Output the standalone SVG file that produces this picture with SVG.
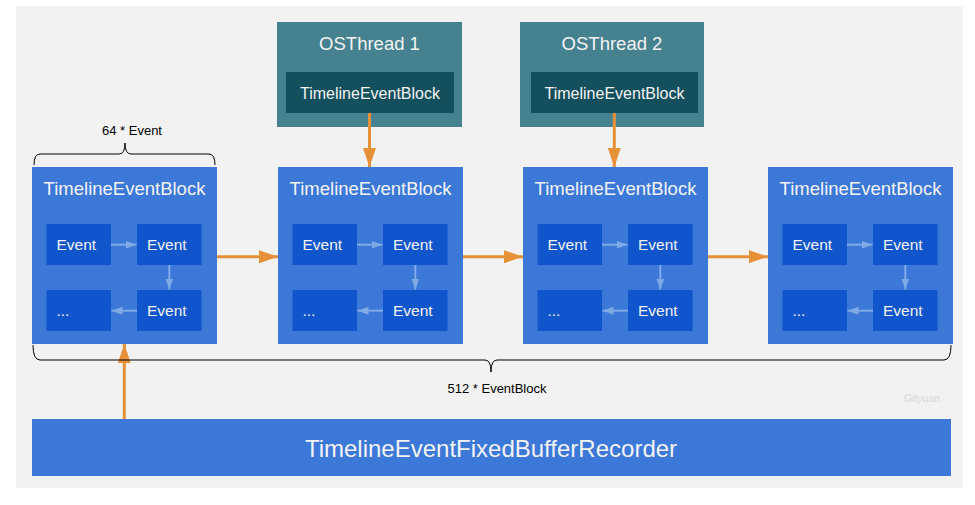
<svg xmlns="http://www.w3.org/2000/svg" width="975" height="505" viewBox="0 0 975 505">
<defs>
<style>
text{font-family:"Liberation Sans",Arial,sans-serif;}
.blk{fill:#3c78d8;}
.ev{fill:#1155cc;}
.t18{font-size:18.5px;fill:#f3f3f3;text-anchor:middle;}
.t16{font-size:16px;fill:#f3f3f3;text-anchor:middle;}
.te{font-size:15.5px;fill:#f3f3f3;}
.th{fill:#45818e;}
.thi{fill:#134f5c;}
.oa{stroke:#e69138;stroke-width:3;fill:none;}
.ia{stroke:#7faae6;stroke-width:2;fill:none;}
.brace{stroke:#000;stroke-width:1;fill:none;}
.lbl{font-size:13px;fill:#000;text-anchor:middle;}
</style>
<marker id="oh" markerUnits="userSpaceOnUse" markerWidth="20" markerHeight="14" refX="19" refY="7" orient="auto">
<path d="M0,0.5 L19,7 L0,13.5 Z" fill="#e69138"/>
</marker>
<marker id="ih" markerUnits="userSpaceOnUse" markerWidth="12" markerHeight="10" refX="11" refY="5" orient="auto">
<path d="M0,1 L11,5 L0,9 Z" fill="#7faae6"/>
</marker>
<g id="events">
<rect class="ev" x="14.5" y="57" width="64.5" height="41"/>
<rect class="ev" x="105" y="57" width="64.5" height="41"/>
<rect class="ev" x="14.5" y="123" width="64.5" height="41"/>
<rect class="ev" x="105" y="123" width="64.5" height="41"/>
<text class="te" x="24.5" y="83.2">Event</text>
<text class="te" x="115" y="83.2">Event</text>
<text class="te" x="24.5" y="149.2">...</text>
<text class="te" x="115" y="149.2">Event</text>
<line class="ia" x1="79" y1="77.7" x2="104.5" y2="77.7" marker-end="url(#ih)"/>
<line class="ia" x1="137.3" y1="98" x2="137.3" y2="122.5" marker-end="url(#ih)"/>
<line class="ia" x1="105" y1="143.7" x2="79.5" y2="143.7" marker-end="url(#ih)"/>
</g>
</defs>
<rect x="16" y="6" width="947" height="482" fill="#f2f2f2"/>

<g id="block1">
<rect class="blk" x="32" y="167" width="185" height="177"/>
<text class="t18" x="124.5" y="194.8">TimelineEventBlock</text>
<use href="#events" x="32" y="167"/>
</g>
<g id="block2">
<rect class="blk" x="278" y="167" width="185" height="177"/>
<text class="t18" x="370.5" y="194.8">TimelineEventBlock</text>
<use href="#events" x="278" y="167"/>
</g>
<g id="block3">
<rect class="blk" x="523" y="167" width="185" height="177"/>
<text class="t18" x="615.5" y="194.8">TimelineEventBlock</text>
<use href="#events" x="523" y="167"/>
</g>
<g id="block4">
<rect class="blk" x="768" y="167" width="185" height="177"/>
<text class="t18" x="860.5" y="194.8">TimelineEventBlock</text>
<use href="#events" x="768" y="167"/>
</g>

<g id="thread1">
<rect class="th" x="277" y="22" width="185" height="105"/>
<text class="t18" x="369.5" y="50">OSThread 1</text>
<rect class="thi" x="286" y="72" width="168" height="41"/>
<text class="t16" x="370" y="98.5">TimelineEventBlock</text>
</g>
<g id="thread2">
<rect class="th" x="520" y="22" width="184" height="105"/>
<text class="t18" x="612" y="50">OSThread 2</text>
<rect class="thi" x="531" y="72" width="167" height="41"/>
<text class="t16" x="614.5" y="98.5">TimelineEventBlock</text>
</g>

<g id="recorder">
<rect class="blk" x="32" y="419" width="919" height="57"/>
<text x="491" y="456.5" font-size="24" fill="#f3f3f3" text-anchor="middle">TimelineEventFixedBufferRecorder</text>
</g>

<g id="connectors">
<line class="oa" x1="217" y1="256.7" x2="278" y2="256.7" marker-end="url(#oh)"/>
<line class="oa" x1="463" y1="256.7" x2="523" y2="256.7" marker-end="url(#oh)"/>
<line class="oa" x1="708" y1="256.7" x2="768" y2="256.7" marker-end="url(#oh)"/>
<line class="oa" x1="369.5" y1="113" x2="369.5" y2="167" marker-end="url(#oh)"/>
<line class="oa" x1="614.3" y1="113" x2="614.3" y2="167" marker-end="url(#oh)"/>
<line class="oa" x1="124.3" y1="419" x2="124.3" y2="344" marker-end="url(#oh)"/>
</g>

<g id="braces">
<path class="brace" d="M34,165 Q34,154 40,154 L119,154 Q125,154 125,143 Q125,154 131,154 L209,154 Q215,154 215,165"/>
<text class="lbl" x="132" y="134.5">64 * Event</text>
<path class="brace" d="M33,345 Q33,360 40,360 L485,360 Q491,360 491,372 Q491,360 497,360 L944,360 Q951,360 951,345"/>
<text class="lbl" x="497" y="392.5">512 * EventBlock</text>
</g>
<text x="922" y="401.5" font-size="10.5" fill="#d9d9d9" text-anchor="middle">Gityuan</text>
</svg>
